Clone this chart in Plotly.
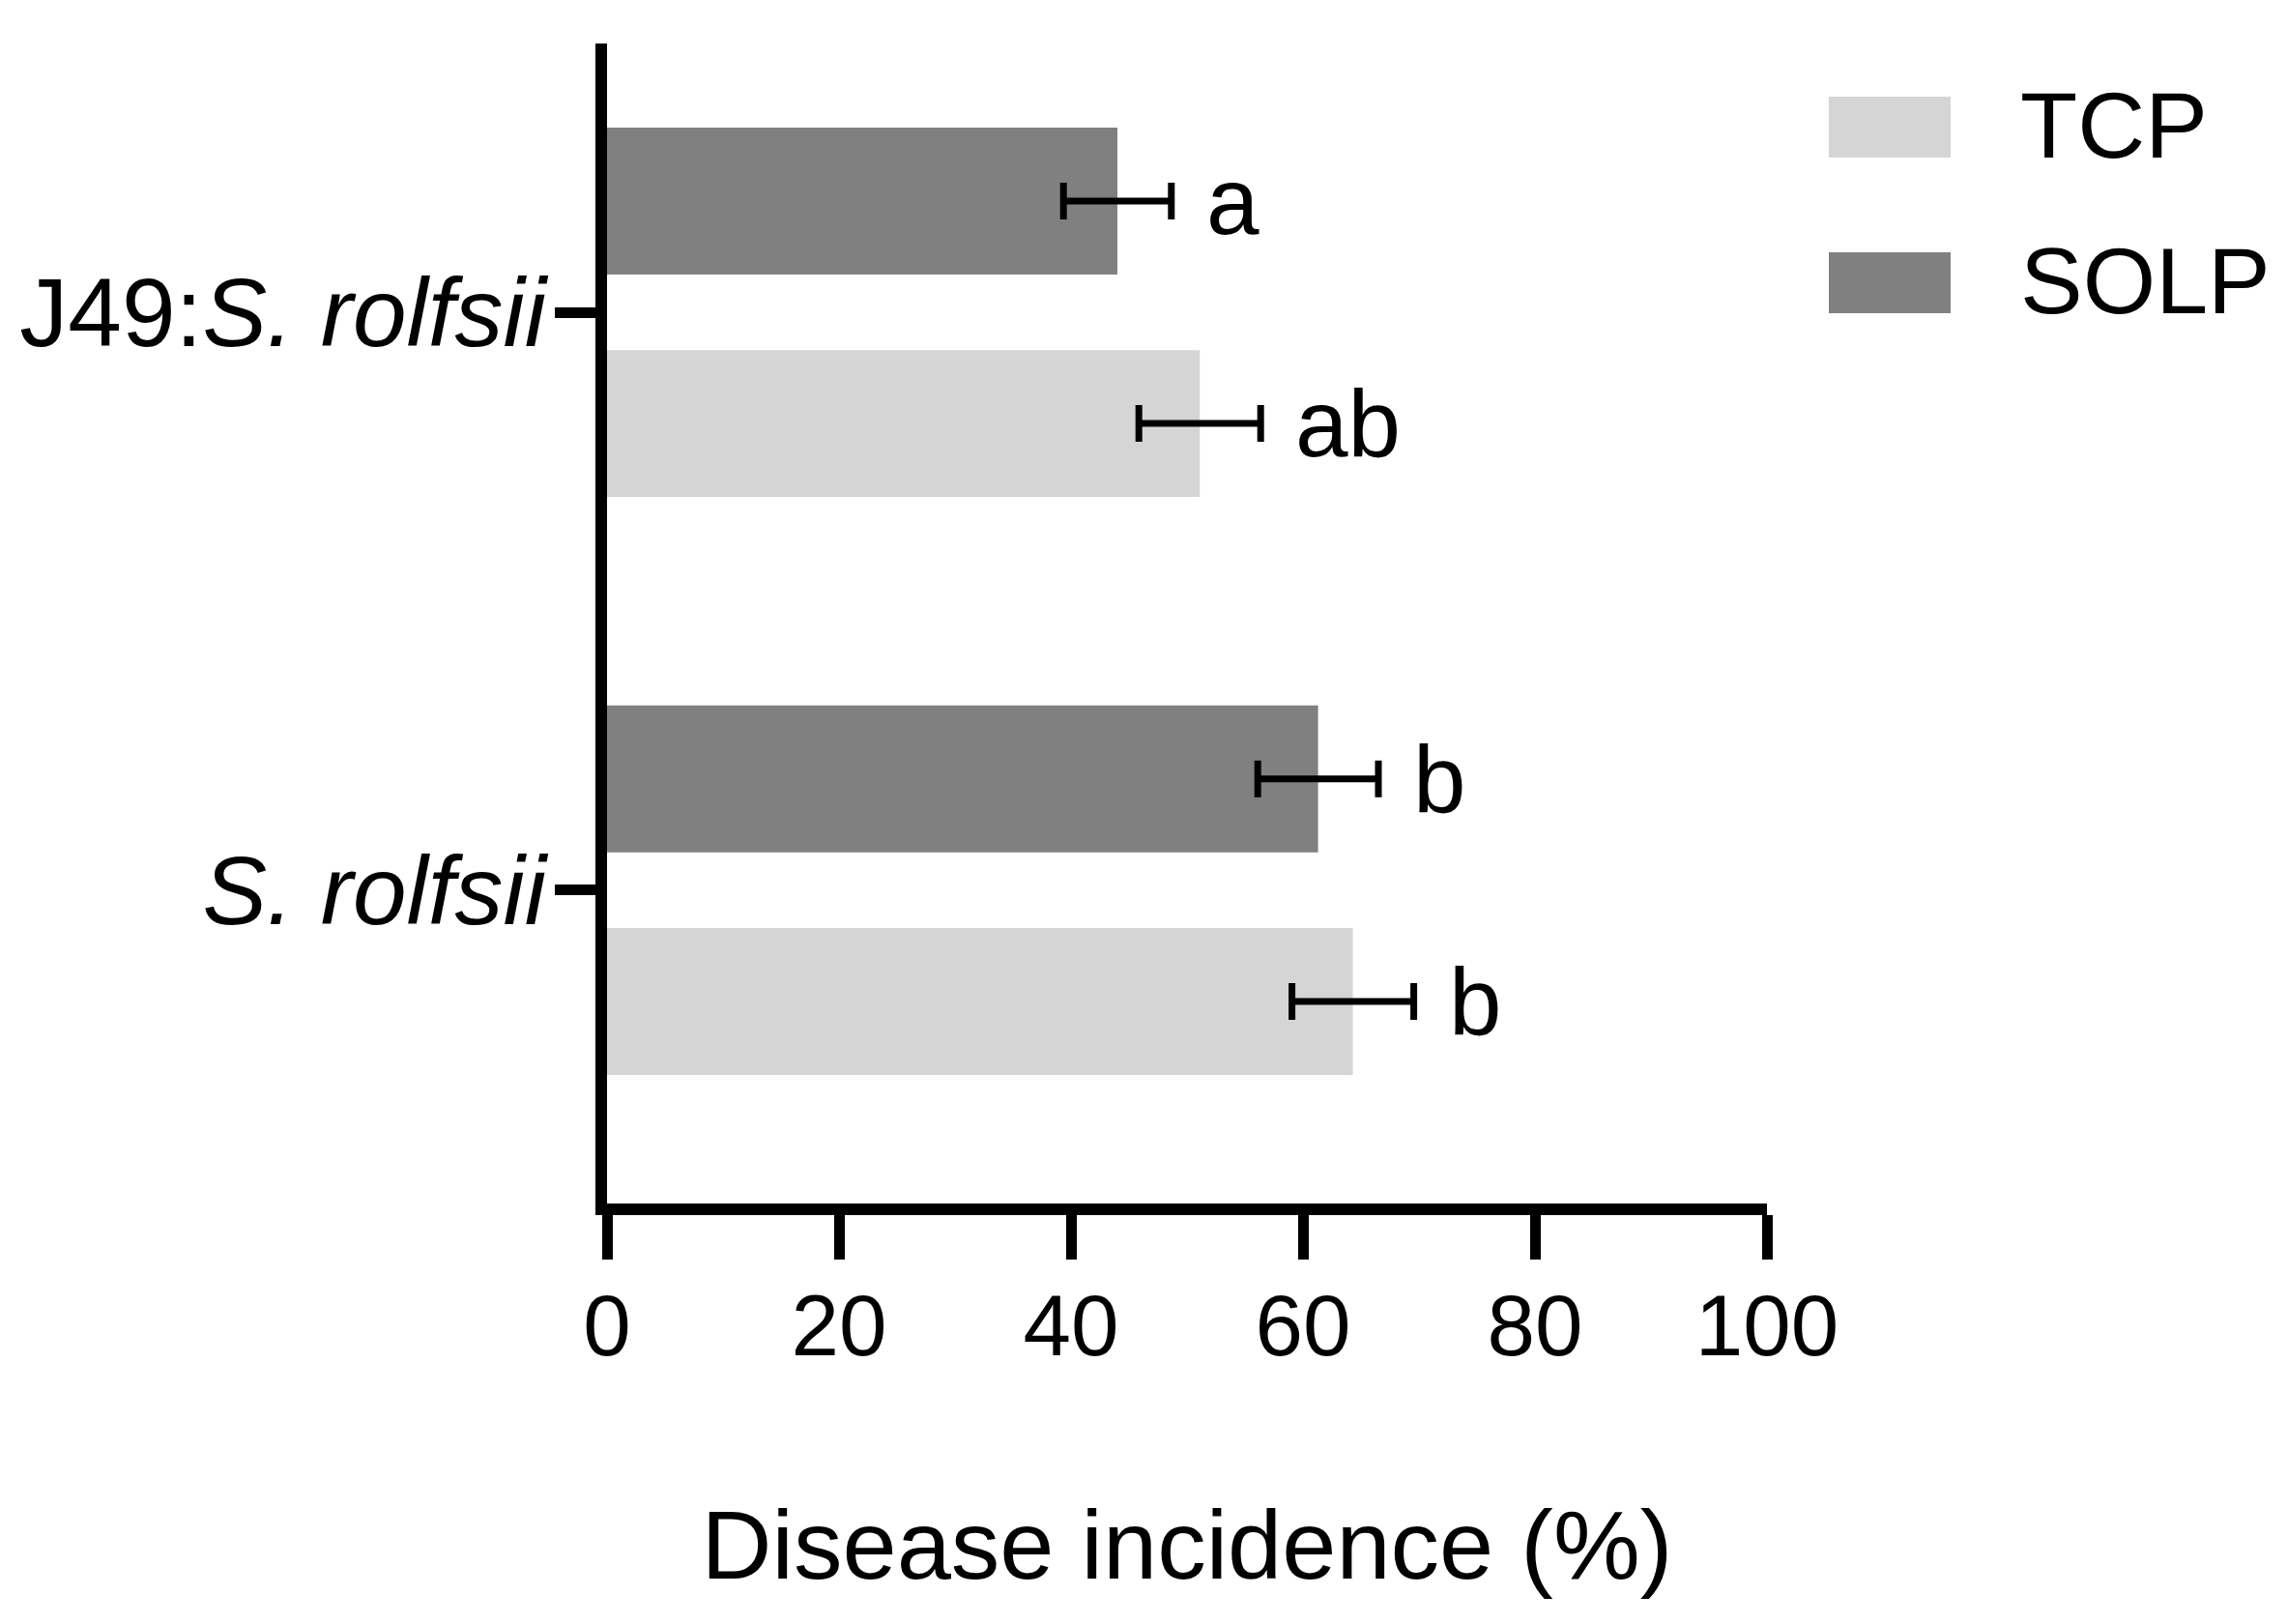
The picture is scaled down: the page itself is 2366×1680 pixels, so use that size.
import plotly.graph_objects as go

# ---- data ----
categories = ["<i>S. rolfsii</i>", "J49:<i>S. rolfsii</i>"]
tcp_values = [64.3, 51.1]
tcp_errors = [5.25, 5.25]
solp_values = [61.3, 44.0]
solp_errors = [5.2, 4.65]
tcp_letters = ["b", "ab"]
solp_letters = ["b", "a"]
x_ticks = [0, 20, 40, 60, 80, 100]
series_names = ["TCP", "SOLP"]
series_colors = ["#d5d5d5", "#808080"]

FONT = "Liberation Sans, Arial, sans-serif"
W, H = 2366, 1680
SHIFT = 8  # page body margin added by the browser
PW, PH = 1200, 1200
L, T = 628 - SHIFT, 45 - SHIFT
R, B = W - L - PW, H - T - PH
BARGAP = 0.23
BARGROUPGAP = 0.34

fig = go.Figure()
for name, vals, errs, color in [
    (series_names[0], tcp_values, tcp_errors, series_colors[0]),
    (series_names[1], solp_values, solp_errors, series_colors[1]),
]:
    fig.add_trace(go.Bar(
        y=categories, x=vals, orientation="h", name=name,
        marker=dict(color=color, line=dict(width=0)),
        error_x=dict(type="data", array=errs, visible=True,
                     color="black", thickness=7, width=19),
        showlegend=False,
    ))

slot = (1 - BARGAP) / 2
annotations = []
for letters, vals, errs, off in [
    (tcp_letters, tcp_values, tcp_errors, -slot / 2),
    (solp_letters, solp_values, solp_errors, slot / 2),
]:
    for i, (lt, v, e) in enumerate(zip(letters, vals, errs)):
        annotations.append(dict(
            x=v + e, y=i + off, xref="x", yref="y", text=lt,
            showarrow=False, xanchor="left", yanchor="middle", xshift=34,
            font=dict(family=FONT, size=98, color="black"),
        ))

# manual legend (target pixel positions on the screenshot)
def px2paper_x(px):
    return (px - SHIFT - L) / PW
def px2paper_y(py):
    return 1 - (py - SHIFT - T) / PH

legend_rows = [(100, 163), (261, 324)]
shapes = []
for (y0, y1), name, color in zip(legend_rows, series_names, series_colors):
    shapes.append(dict(type="rect", xref="paper", yref="paper",
                       x0=px2paper_x(1892), x1=px2paper_x(2018),
                       y0=px2paper_y(y1), y1=px2paper_y(y0),
                       fillcolor=color, line=dict(width=0)))
    annotations.append(dict(x=px2paper_x(2088), y=px2paper_y((y0 + y1) / 2 - 2),
                            xref="paper", yref="paper", text=name,
                            showarrow=False, xanchor="left", yanchor="middle",
                            font=dict(family=FONT, size=97, color="black")))

fig.update_layout(
    width=W, height=H,
    margin=dict(l=L, r=R, t=T, b=B, pad=0, autoexpand=False),
    paper_bgcolor="white", plot_bgcolor="white",
    barmode="group", bargap=BARGAP, bargroupgap=BARGROUPGAP,
    font=dict(family=FONT, size=100, color="black"),
    annotations=annotations, shapes=shapes,
    xaxis=dict(
        range=[0, 100], tickvals=x_ticks, ticktext=[str(t) for t in x_ticks],
        showgrid=False, zeroline=False, automargin=False,
        showline=True, linecolor="black", linewidth=12,
        ticks="outside", ticklen=46, tickwidth=11, tickcolor="black",
        tickfont=dict(family=FONT, size=89, color="black"),
        ticklabelstandoff=-8,
        title=dict(text="Disease incidence (%)", standoff=148,
                   font=dict(family=FONT, size=101, color="black")),
    ),
    yaxis=dict(
        type="category", categoryorder="array", categoryarray=categories,
        range=[-0.542, 1.465], automargin=False,
        showgrid=False, zeroline=False,
        showline=True, linecolor="black", linewidth=12,
        ticks="outside", ticklen=42, tickwidth=11, tickcolor="black",
        tickfont=dict(family=FONT, size=100, color="black"),
        ticklabelstandoff=-11,
    ),
)

fig.write_html("out.html")
